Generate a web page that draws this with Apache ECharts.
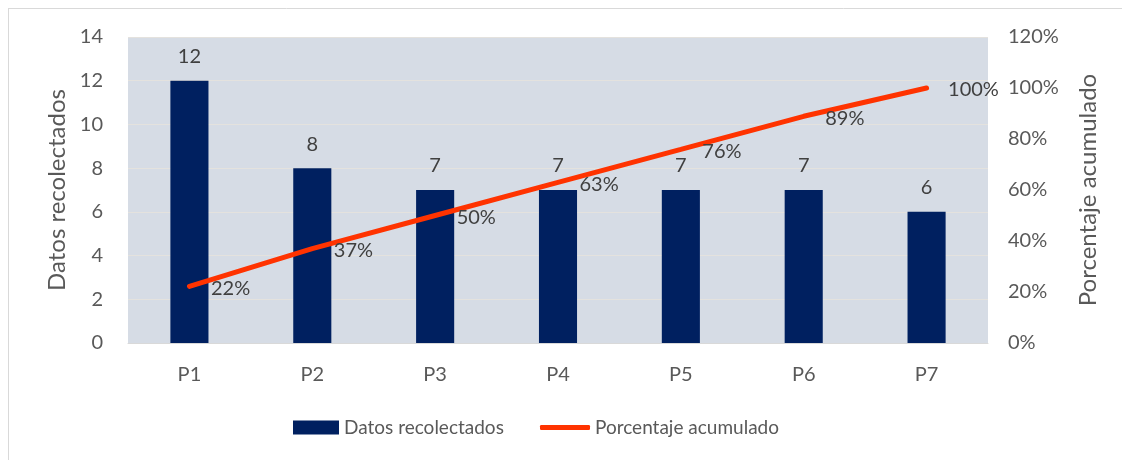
<!DOCTYPE html>
<html>
<head>
<meta charset="utf-8">
<script src="https://cdn.jsdelivr.net/npm/echarts@6/dist/echarts.min.js"></script>
<style>
  html, body { margin: 0; padding: 0; background: #fff; }
  #main { width: 1122px; height: 460px; }
</style>
</head>
<body>
<div id="main"></div>
<script>
// datos del diagrama de Pareto
const categorias = ['P1', 'P2', 'P3', 'P4', 'P5', 'P6', 'P7']
const datosRecolectados = [12, 8, 7, 7, 7, 7, 6]
const porcentajeAcumulado = [22.2, 37.0, 50.0, 63.0, 75.9, 88.9, 100]

const fuente = 'Lato, "Liberation Sans", sans-serif'
const gris = '#595959'

var chart = echarts.init(document.getElementById('main'), null, { renderer: 'canvas' })

chart.setOption({
  backgroundColor: '#ffffff',
  textStyle: { fontFamily: fuente },
  grid: {
    left: 128,
    right: 134,
    top: 37,
    bottom: 117,
    show: true,
    backgroundColor: '#D6DCE5',
    borderWidth: 0
  },
  legend: [
    {
      left: 288,
      top: 413,
      itemWidth: 46,
      itemHeight: 14,
      textStyle: { fontFamily: fuente, fontSize: 19, color: gris },
      data: [{ name: 'Datos recolectados', icon: 'rect' }]
    },
    {
      left: 535,
      top: 413,
      itemWidth: 50,
      itemHeight: 5,
      textStyle: { fontFamily: fuente, fontSize: 19, color: gris },
      data: [{ name: 'Porcentaje acumulado', icon: 'roundRect' }]
    }
  ],
  xAxis: {
    type: 'category',
    data: categorias,
    axisTick: { show: false },
    axisLine: { lineStyle: { color: '#D9D9D9', width: 1 } },
    axisLabel: { color: gris, fontSize: 20, margin: 22, fontFamily: fuente }
  },
  yAxis: [
    {
      type: 'value',
      min: 0,
      max: 14,
      interval: 2,
      name: 'Datos recolectados',
      nameLocation: 'middle',
      nameGap: 58,
      nameRotate: 90,
      nameTextStyle: { color: gris, fontSize: 24, fontFamily: fuente },
      axisLine: { show: false },
      axisTick: { show: false },
      axisLabel: { color: gris, fontSize: 20, margin: 25, fontFamily: fuente },
      splitLine: { lineStyle: { color: '#E4E2DE', width: 1 } }
    },
    {
      type: 'value',
      min: 0,
      max: 120,
      interval: 20,
      name: 'Porcentaje acumulado',
      nameLocation: 'middle',
      nameGap: 88,
      nameRotate: 90,
      nameTextStyle: { color: gris, fontSize: 24, fontFamily: fuente },
      axisLine: { show: false },
      axisTick: { show: false },
      axisLabel: { color: gris, fontSize: 20, margin: 20, fontFamily: fuente, formatter: '{value}%' },
      splitLine: { show: false }
    }
  ],
  series: [
    {
      name: 'Datos recolectados',
      type: 'bar',
      data: datosRecolectados,
      barWidth: '31%',
      itemStyle: { color: '#002060' },
      label: {
        show: true,
        position: 'top',
        distance: 14,
        color: '#404040',
        fontSize: 20,
        fontFamily: fuente
      }
    },
    {
      name: 'Porcentaje acumulado',
      type: 'line',
      yAxisIndex: 1,
      data: porcentajeAcumulado,
      symbol: 'circle',
      symbolSize: 1,
      showSymbol: true,
      lineStyle: { color: '#FF3300', width: 5, cap: 'round' },
      itemStyle: { color: '#FF3300' },
      label: {
        show: true,
        position: 'right',
        distance: 21,
        offset: [0, 2],
        color: '#404040',
        fontSize: 20,
        fontFamily: fuente,
        formatter: function (p) {
          return Math.round(p.value) + '%'
        }
      }
    }
  ],
  graphic: [
    { type: 'line', shape: { x1: 8, y1: 8.5, x2: 1122, y2: 8.5 }, style: { stroke: '#D9D9D9', lineWidth: 1 } },
    { type: 'line', shape: { x1: 8.5, y1: 8, x2: 8.5, y2: 460 }, style: { stroke: '#D9D9D9', lineWidth: 1 } }
  ]
})
</script>
</body>
</html>
